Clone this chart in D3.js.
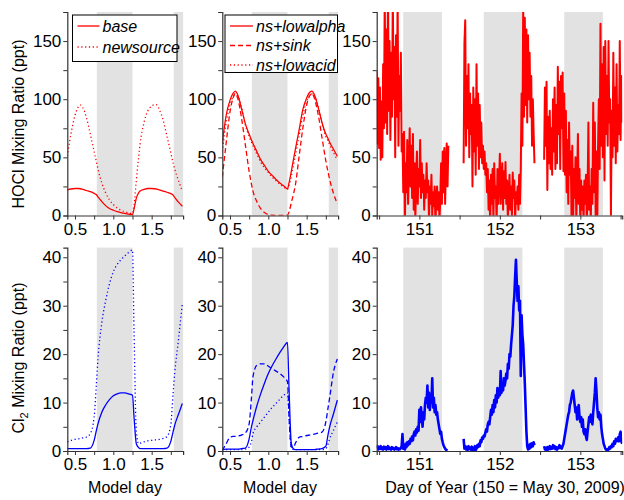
<!DOCTYPE html>
<html><head><meta charset="utf-8">
<script src="https://cdn.jsdelivr.net/npm/d3@7"></script>
<style>body{margin:0;background:#fff}svg{display:block;font-family:Arial,"Liberation Sans",sans-serif}</style>
</head><body><svg id="c" width="624" height="500"></svg>
<script>
// ---------- DATA ----------
const modelDay = [0.40,0.45,0.50,0.54,0.57,0.60,0.65,0.70,0.75,0.78,0.80,0.85,0.90,0.95,1.00,1.05,1.10,1.15,1.20,1.25,1.27,1.30,1.33,1.35,1.40,1.45,1.50,1.54,1.57,1.60,1.65,1.70,1.75,1.78,1.80,1.85,1.90];
const hoclBase      = [22,22.8,23.2,23.2,23,22.5,21.5,20.5,19,17.8,16,12,8.5,6,4.5,3.3,2.5,1.8,1.2,0.8,5.5,15,19.5,21,22.5,23.2,23.2,23,22.6,22,21,20,18.8,17.5,15.5,11.5,8];
const hoclNewsource = [51,71,86,93,95,93,84,70,55,46,40,28,19.5,13.5,9.5,6.5,4.5,3.2,2.3,1.7,9,30,50,62,80,90,94,95.5,95,91,82,68,54,45,40,30,21];
const hoclLowalpha  = [62,86,99,105,107,104,92,79,70,65,62,55,48,43,38,34.5,31,28,25.5,23,28,38,49,56,73,91,101,106,107,104,93,80,70,66,63,57,51];
const hoclSink      = [33,62,89,101,105,101,84,61,38,27,21,12,6,2.5,0.8,0.2,0,0,0,0.3,3,11,19,25,50,75,95,103,105,101,87,67,47,37,31,19,10];
const hoclLowacid   = [55,80,95,102,104,103,93,78,68,63,60,53,46,41,37,33,30,27,24.5,22.5,26,34,44,51,68,86,98,103,104.5,103,94,79,68,64,61,54,48];
const cl2Base       = [0.5,0.5,0.5,0.5,0.5,0.5,0.5,0.6,2.2,4.3,5.6,8,9.5,10.6,11.4,11.8,12,12,11.8,11.5,7,1.5,0.7,0.5,0.5,0.5,0.5,0.5,0.5,0.5,0.5,0.6,2,4,5.3,7.6,9.8];
const cl2Newsource  = [1.9,2.2,2.4,2.5,2.6,2.7,2.9,3.6,7,14,19,26.5,31,34.5,37,38.5,39.5,40.3,41,41.5,25,4,1.5,1.6,1.9,2.1,2.2,2.3,2.3,2.4,2.6,3,5.5,12,16,23,30.5];
const cl2Lowalpha   = [0.3,0.4,0.4,0.4,0.4,0.4,0.5,0.6,2.5,5,6.3,9.3,11.8,14,16,17.6,19,20.3,21.5,22.4,13,1.5,0.4,0.3,0.3,0.3,0.3,0.3,0.3,0.3,0.4,0.5,1,3.5,5,7.7,10.5];
const cl2Sink       = [0.1,1.5,2.8,3,3,3.1,3.3,3.7,5.6,11,15.3,17.7,18,18,17.5,17,16.5,16,15.3,14.3,7,0.8,0.8,1.5,2.8,3,3.2,3.3,3.4,3.5,3.7,3.9,6,9,11,16.3,19];
const cl2Lowacid    = [0.3,0.3,0.3,0.3,0.3,0.3,0.3,0.4,0.8,2,3.6,5,6,7,8,9,9.8,10.7,11.5,12,7,0.8,0.3,0.3,0.3,0.3,0.3,0.3,0.3,0.3,0.3,0.3,0.5,1.5,2.5,4.3,6];

// measured series: segments of values every 0.01 day, starting at given day
const obsStep = 0.01;
const obsStarts = [150.47, 151.55, 152.55];
const hoclObs1 = [125,62,118,58,110,48,98,50,130,75,190,80,160,70,200,90,150,65,140,85,190,100,145,50,155,85,190,60,120,90,140,55,70,20,72,-10,45,20,65,10,40,75,25,60,15,70,5,45,-5,35,55,10,40,25,65,15,45,20,35,5,30,15,45,20,30,-5,25,10,35,0,20,8,25,-8,15,25,5,20,-5,15,45,10,55,20,58,10,40,62,25,60];
const hoclObs2 = [45,148,168,60,120,75,130,50,105,70,95,25,110,55,100,35,130,60,105,40,95,50,80,45,60,40,55,35,45,20,40,5,30,-10,35,10,40,-5,45,15,25,-8,40,10,30,53,10,30,45,5,38,15,46,10,30,-5,20,35,5,25,0,37,15,30,-5,20,10,25,5,35,10,40,105,60,180,85,170,95,160,80,155,100,140,85,120,60,100,70,45];
const hoclObs3 = [48,110,60,115,22,85,45,90,40,75,35,100,55,110,40,95,45,128,70,115,40,120,75,123,38,105,35,90,20,65,10,80,35,55,0,60,-10,40,15,50,-5,30,70,10,40,-10,30,5,25,-5,30,10,35,-10,20,80,5,25,-5,40,10,97,20,80,0,55,-10,60,100,40,165,60,130,50,145,30,150,70,120,60,150,80,100,0,90,50,140,60,110,45,130,55,95,70,150,65,120,80];
const cl2Obs1 = [0.5,1,0.3,0.8,0.5,1,0.4,0.7,0.3,0.9,0.5,0.8,0.3,0.6,1,0.4,0.7,0.5,0.3,0.8,0.5,0.6,0.3,0.5,0.8,0.4,0.6,0.3,0.5,0.4,0.6,1.0,3.5,0.5,1.0,0.3,1.5,0.8,1.8,1.2,2.0,1.5,2.5,2.0,3.0,2.2,3.5,4.0,3.2,4.5,3.8,5.0,4.2,8.5,6.0,9.0,7.0,5.0,8.0,6.5,9.5,11.0,10.0,13.5,9.0,12.0,8.5,11.5,10.0,15.0,9.0,11.0,8.0,9.5,7.5,8.0,6.5,5.5,4.5,3.5,4.0,2.5,1.8,1.2,0.8,0.5,0.3,0.2,0.1];
const cl2Obs2 = [2.5,0.5,1.0,0.3,0.8,0.2,1.0,0.4,0.7,0.3,0.9,0.2,0.6,0.3,1.0,0.2,0.5,1.2,0.8,1.5,1.0,2.2,1.8,2.8,2.5,3.2,3.0,3.8,4.5,4.0,5.5,6.0,5.5,7.0,8.5,7.5,9.5,8.0,10.5,9.0,11.5,10.0,13.0,11.0,12.5,11.5,16.5,12.0,14.0,12.5,15.0,13.5,14.5,16.0,15.0,18.0,17.0,20.0,19.5,22.0,24.0,26.0,30.0,32.0,36.0,39.5,35.0,31.0,34.0,29.0,31.0,15.5,28.0,24.0,22.0,18.0,14.0,9.0,4.0,1.0,0.3,1.2,0.5,1.5,0.8,1.6,1.0,1.8,1.2];
const cl2Obs3 = [1.0,0.3,0.6,0.2,0.8,0.3,0.5,1.0,0.4,0.8,0.5,1.2,0.6,1.0,0.4,0.8,0.3,0.5,0.8,1.2,0.6,0.9,0.5,1.0,1.5,2.5,3.5,4.5,5.5,6.5,7.5,8.0,9.5,10.0,11.0,12.0,12.5,11.0,9.5,8.0,9.0,6.5,8.5,9.5,7.0,6.0,7.0,5.0,6.5,4.0,3.5,4.5,3.0,2.3,4.0,5.5,7.0,6.0,7.5,6.5,5.5,8.0,10.0,12.0,15.0,12.5,9.0,7.0,8.0,6.5,7.5,5.0,3.5,2.5,1.5,1.0,0.5,0.3,0.2,0.4,0.3,0.8,0.5,1.0,0.8,1.5,1.0,2.0,1.5,2.5,2.0,2.2,2.8,2.0,3.5,4.0,2.0,1.5];

const modelNights = [[0.785,1.25],[1.788,2.25]];
const obsNights = [[150.8,151.28],[151.8,152.28],[152.8,153.28]];
const modelTicks = [0.5,0.75,1.0,1.25,1.5,1.75];
const dayTicks = [150.5,151,151.5,152,152.5,153,153.5];
const hoclTicks = [0,25,50,75,100,125,150,175];
const cl2Ticks = [0,5,10,15,20,25,30,35,40];

// ---------- LAYOUT ----------
const svg = d3.select("#c");
const cols = [[67.3,183.1],[222.3,338.1],[376.7,622.2]];
const rows = [[12,215.5],[247.6,451]];
const shade = "#e2e2e2", axisCol = "#333";

const xModel = c => d3.scaleLinear().domain([0.4,1.91]).range(cols[c]);
const xDay = d3.scaleLinear().domain([150.47,153.52]).range(cols[2]);
const yH = d3.scaleLinear().domain([0,175]).range([rows[0][1],rows[0][0]]);
const yC = d3.scaleLinear().domain([0,42]).range([rows[1][1],rows[1][0]]);

let clipId = 0;
function panel(x, y, nights, xt, xfmt, yt, yfmt) {
  const g = svg.append("g");
  const [x0,x1] = x.range(); const [y0,y1] = [y.range()[1], y.range()[0]];
  const id = "clip"+(clipId++);
  svg.append("clipPath").attr("id",id).append("rect").attr("x",x0).attr("y",y0).attr("width",x1-x0).attr("height",y1-y0);
  g.selectAll("rect.n").data(nights).join("rect")
    .attr("x",d=>Math.max(x0,x(d[0]))).attr("y",y0)
    .attr("width",d=>Math.min(x1,x(d[1]))-Math.max(x0,x(d[0]))).attr("height",y1-y0).attr("fill",shade);
  const plot = g.append("g").attr("clip-path",`url(#${id})`);
  const xa = g.append("g").attr("transform",`translate(0,${y1})`)
    .call(d3.axisBottom(x).tickValues(xt).tickFormat(xfmt).tickSizeOuter(0).tickSize(4).tickPadding(3));
  const ya = g.append("g").attr("transform",`translate(${x0},0)`)
    .call(d3.axisLeft(y).tickValues(yt).tickFormat(yfmt).tickSizeOuter(0).tickSize(4).tickPadding(2));
  [xa,ya].forEach(a=>{
    a.select(".domain").attr("stroke",axisCol).attr("stroke-width",1.2);
    a.selectAll(".tick line").attr("stroke",axisCol);
    a.selectAll("text").attr("font-size",17).attr("fill","#000").attr("font-family","Arial, 'Liberation Sans', sans-serif");
  });
  return plot;
}
const fmtModel = d => (Math.abs(d*2-Math.round(d*2))<1e-6) ? d.toFixed(1) : "";
const fmtDay = d => Number.isInteger(d) ? String(d) : "";
const fmtH = d => d%50===0 && d<=150 ? String(d) : "";
const fmtC = d => d%10===0 ? String(d) : "";

const pHL = panel(xModel(0), yH, modelNights, modelTicks, fmtModel, hoclTicks, fmtH);
const pHM = panel(xModel(1), yH, modelNights, modelTicks, fmtModel, hoclTicks, fmtH);
const pHR = panel(xDay, yH, obsNights, dayTicks, fmtDay, hoclTicks, fmtH);
const pCL = panel(xModel(0), yC, modelNights, modelTicks, fmtModel, cl2Ticks, fmtC);
const pCM = panel(xModel(1), yC, modelNights, modelTicks, fmtModel, cl2Ticks, fmtC);
const pCR = panel(xDay, yC, obsNights, dayTicks, fmtDay, cl2Ticks, fmtC);

const DOT = "1.2,2.6", DASH = "5,3";
function modelLine(plot, x, y, vals, color, dash) {
  const line = d3.line().x((d,i)=>x(modelDay[i])).y(d=>y(d)).curve(d3.curveMonotoneX);
  plot.append("path").attr("d", line(vals)).attr("fill","none").attr("stroke",color)
    .attr("stroke-width",1.3).attr("stroke-dasharray",dash||null);
}
const red = "#ff0000", blue = "#0000ff";
modelLine(pHL, xModel(0), yH, hoclNewsource, red, DOT);
modelLine(pHL, xModel(0), yH, hoclBase, red);
modelLine(pHM, xModel(1), yH, hoclLowacid, red, DOT);
modelLine(pHM, xModel(1), yH, hoclSink, red, DASH);
modelLine(pHM, xModel(1), yH, hoclLowalpha, red);
modelLine(pCL, xModel(0), yC, cl2Newsource, blue, DOT);
modelLine(pCL, xModel(0), yC, cl2Base, blue);
modelLine(pCM, xModel(1), yC, cl2Lowacid, blue, DOT);
modelLine(pCM, xModel(1), yC, cl2Sink, blue, DASH);
modelLine(pCM, xModel(1), yC, cl2Lowalpha, blue);

function obsLines(plot, y, segs, color, w) {
  segs.forEach((vals, s) => {
    const line = d3.line().x((d,i)=>xDay(obsStarts[s] + i*obsStep)).y(d=>y(d));
    plot.append("path").attr("d", line(vals)).attr("fill","none").attr("stroke",color)
      .attr("stroke-width",w).attr("stroke-linejoin","round");
  });
}
obsLines(pHR, yH, [hoclObs1,hoclObs2,hoclObs3], red, 2);
obsLines(pCR, yC, [cl2Obs1,cl2Obs2,cl2Obs3], blue, 2.6);

// ---------- LEGENDS ----------
function legend(x, y, w, h, items, color, rowH, lineLen) {
  const g = svg.append("g");
  g.append("rect").attr("x",x).attr("y",y).attr("width",w).attr("height",h).attr("fill","#fff").attr("stroke","#000").attr("stroke-width",1);
  items.forEach((it,i)=>{
    const cy = y + 11 + i*rowH;
    g.append("line").attr("x1",x+5).attr("x2",x+5+lineLen).attr("y1",cy).attr("y2",cy)
      .attr("stroke",color).attr("stroke-width",1.3).attr("stroke-dasharray",it[1]||null);
    g.append("text").attr("x",x+8+lineLen).attr("y",cy+5.5).attr("font-size",16).attr("font-style","italic").text(it[0]);
  });
}
legend(72.5, 15, 104.5, 46.5, [["base",null],["newsource",DOT]], red, 21, 22);
legend(225, 15, 112.5, 57.5, [["ns+lowalpha",null],["ns+sink",DASH],["ns+lowacid",DOT]], red, 19.5, 23);

// ---------- AXIS TITLES ----------
svg.append("text").attr("transform","translate(24,124) rotate(-90)").attr("text-anchor","middle")
  .attr("font-size",16).text("HOCl Mixing Ratio (ppt)");
const ct = svg.append("text").attr("transform","translate(24,358) rotate(-90)").attr("text-anchor","middle").attr("font-size",16);
ct.append("tspan").text("Cl");
ct.append("tspan").attr("font-size",11).attr("dy",4).text("2");
ct.append("tspan").attr("dy",-4).text(" Mixing Ratio (ppt)");
svg.append("text").attr("x",125).attr("y",493).attr("text-anchor","middle").attr("font-size",16).text("Model day");
svg.append("text").attr("x",280).attr("y",493).attr("text-anchor","middle").attr("font-size",16).text("Model day");
svg.append("text").attr("x",505).attr("y",493).attr("text-anchor","middle").attr("font-size",16).text("Day of Year (150 = May 30, 2009)");
</script></body></html>
